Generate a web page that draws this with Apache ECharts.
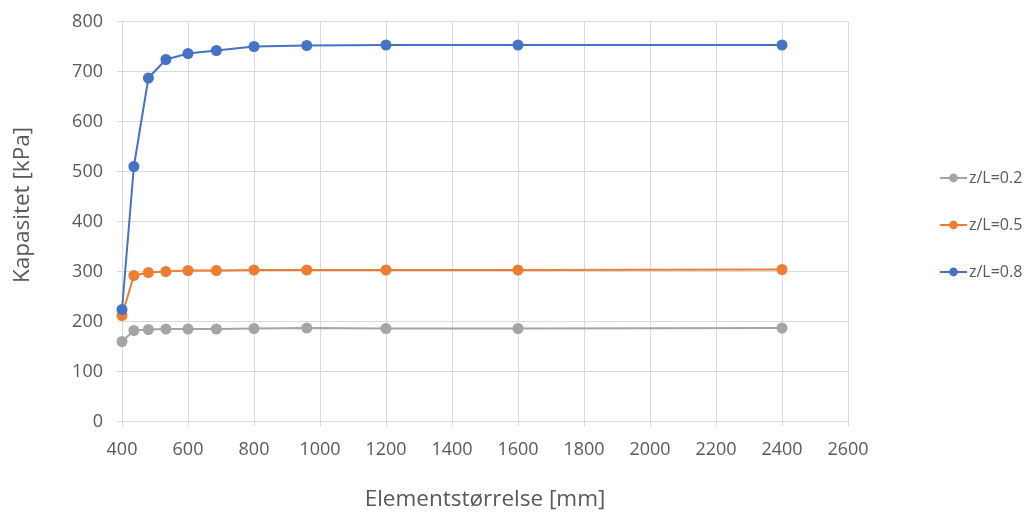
<!DOCTYPE html>
<html>
<head>
<meta charset="utf-8">
<script src="https://cdn.jsdelivr.net/npm/echarts@6/dist/echarts.min.js"></script>
<style>
  html, body { margin: 0; padding: 0; background: #fff; }
  #chart { width: 1034px; height: 516px; }
</style>
</head>
<body>
<div id="chart"></div>
<script>
// Element sizes (mm) and computed capacity (kPa) for three depth ratios
const elementSizes = [400, 436, 480, 533, 600, 686, 800, 960, 1200, 1600, 2400];
const seriesNames = ['z/L=0.2', 'z/L=0.5', 'z/L=0.8'];
const capZL02 = [160, 182, 184, 185, 185, 185, 186, 187, 186, 186, 187];
const capZL05 = [212, 292, 298, 300, 302, 302, 303, 303, 303, 303, 304];
const capZL08 = [224, 510, 687, 724, 736, 742, 750, 752, 753, 753, 753];
const seriesColors = ['#a5a5a5', '#ed7d31', '#4472c4'];

const FONT = '"Open Sans", sans-serif';
const TEXT = '#595959';
const GRID = '#d9d9d9';

const values = [capZL02, capZL05, capZL08];
const series = seriesNames.map((name, i) => ({
  name: name,
  type: 'line',
  data: elementSizes.map((x, j) => [x, values[i][j]]),
  symbol: 'circle',
  symbolSize: 11,
  lineStyle: { width: 2, color: seriesColors[i] },
  itemStyle: { color: seriesColors[i] },
  emphasis: { disabled: true },
  animation: false
}));

const chart = echarts.init(document.getElementById('chart'), null, { renderer: 'canvas' });
chart.setOption({
  animation: false,
  grid: {
    left: 122, right: 186, top: 21.5, bottom: 94.5,
    containLabel: false,
    outerBoundsMode: 'none'
  },
  legend: {
    orient: 'vertical',
    left: 934,
    top: 165,
    itemWidth: 27,
    itemHeight: 11,
    itemGap: 31,
    data: seriesNames,
    textStyle: { fontFamily: FONT, fontSize: 16, color: TEXT, padding: [0, 0, 0, -3] }
  },
  xAxis: {
    type: 'value',
    min: 400,
    max: 2600,
    interval: 200,
    name: 'Elementstørrelse [mm]',
    nameLocation: 'middle',
    nameGap: 67,
    nameTextStyle: { fontFamily: FONT, fontSize: 22.5, color: TEXT },
    axisLine: { show: true, lineStyle: { color: GRID, width: 1 } },
    axisTick: { show: true, length: 5, lineStyle: { color: GRID } },
    axisLabel: {
      fontFamily: FONT, fontSize: 18, color: TEXT, margin: 19,
      formatter: (v) => String(v)
    },
    splitLine: { show: true, lineStyle: { color: GRID, width: 1 } }
  },
  yAxis: {
    type: 'value',
    min: 0,
    max: 800,
    interval: 100,
    name: 'Kapasitet [kPa]',
    nameLocation: 'middle',
    nameGap: 88,
    nameTextStyle: { fontFamily: FONT, fontSize: 22.5, color: TEXT, padding: [0, 0, 0, 33] },
    axisLine: { show: true, lineStyle: { color: GRID, width: 1 } },
    axisTick: { show: true, length: 5, lineStyle: { color: GRID } },
    axisLabel: {
      fontFamily: FONT, fontSize: 18, color: TEXT, margin: 19,
      formatter: (v) => String(v)
    },
    splitLine: { show: true, lineStyle: { color: GRID, width: 1 } }
  },
  series: series
});
</script>
</body>
</html>
